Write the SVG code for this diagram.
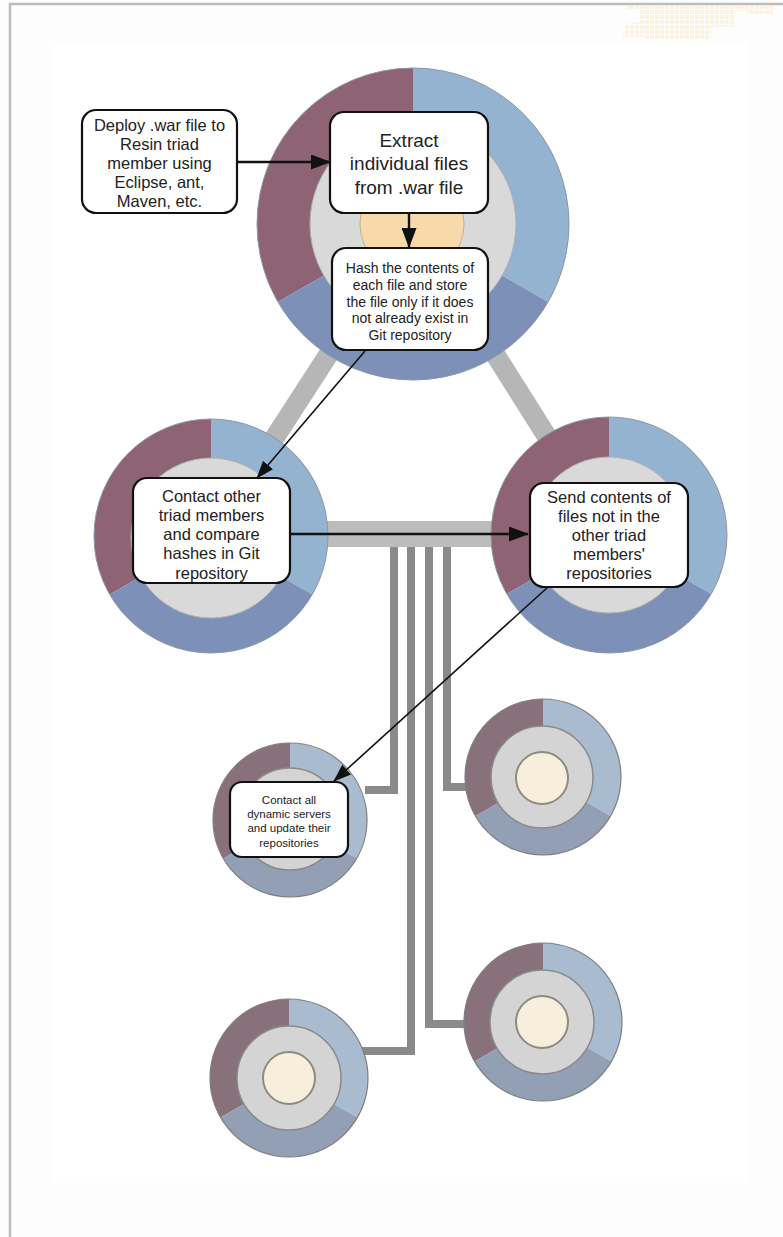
<svg xmlns="http://www.w3.org/2000/svg" width="783" height="1237" viewBox="0 0 783 1237">
<defs>
<style>
.mar{fill:#8e6373}.lb{fill:#94b3d0}.db{fill:#7d90b7}
.gry{fill:#d9d9d9;stroke:#b0b0b0;stroke-width:1}
.pch{fill:#f8d9aa}
.smar{fill:#88717a}.slb{fill:#a9bbcf}.sdb{fill:#929fb4}
.sgry{fill:#d4d4d4;stroke:#8a8a8a;stroke-width:1.5}
.crm{fill:#f8eedc;stroke:#8d8b80;stroke-width:2}
.sout{fill:none;stroke:#7e7e7e;stroke-width:1.2}
.bout{fill:none;stroke:#8c96a6;stroke-width:1}
.box{fill:#ffffff;stroke:#111;stroke-width:2.2}
.t{font-family:"Liberation Sans",Arial,sans-serif;fill:#222;text-anchor:middle}
.band{stroke:#b6b6b6;stroke-width:20;fill:none}
.hband{stroke:#bcbcbc;stroke-width:26;fill:none}
.bus{stroke:#8a8a8a;stroke-width:8;fill:none}
.arr{stroke:#111;stroke-width:2.4;fill:none}
.arrs{stroke:#111;stroke-width:1.6;fill:none}
</style>
<marker id="ah" viewBox="0 0 20 15" refX="19" refY="7.5" markerWidth="20" markerHeight="15" markerUnits="userSpaceOnUse" orient="auto"><path d="M0,0 L20,7.5 L0,15 z" fill="#111"/></marker>
<marker id="ahs" viewBox="0 0 18 13" refX="17" refY="6.5" markerWidth="18" markerHeight="13" markerUnits="userSpaceOnUse" orient="auto"><path d="M0,0 L18,6.5 L0,13 z" fill="#111"/></marker>
<pattern id="grid" width="5" height="5" patternUnits="userSpaceOnUse"><rect width="4" height="4" fill="#f6e1ba"/></pattern>
</defs>

<rect x="0" y="0" width="783" height="1237" fill="#fdfdfd"/>
<rect x="50" y="42" width="696" height="1141" fill="#ffffff"/>
<path d="M10,1237 V4 H783" fill="none" stroke="#bdbdbd" stroke-width="2.5"/>
<polygon points="627,6 773,6 773,15 750,15 746,11 735,11 735,27 712,27 710,40 645,40 645,37 623,37 625,24 640,22 640,9 627,9" fill="url(#grid)" opacity="0.4"/>

<g id="links">
<line class="band" x1="413" y1="224" x2="211" y2="536"/>
<line class="band" x1="413" y1="224" x2="609" y2="535"/>
<line class="hband" x1="211" y1="534" x2="609" y2="534"/>
<path class="bus" d="M394,547 V790 H365"/>
<path class="bus" d="M411,547 V1051 H362"/>
<path class="bus" d="M429,547 V1024 H466"/>
<path class="bus" d="M447,547 V787 H467"/>
</g>

<g id="triad-top">
<path class="mar" d="M413,224 L277.9,302 A156,156 0 0 1 413,68 Z"/>
<path class="lb" d="M413,224 L413,68 A156,156 0 0 1 548.1,302 Z"/>
<path class="db" d="M413,224 L548.1,302 A156,156 0 0 1 277.9,302 Z"/>
<circle class="bout" cx="413" cy="224" r="156"/>
<circle class="gry" cx="413" cy="224" r="103"/>
<circle class="pch" cx="412" cy="224" r="52" stroke="#c8b090" stroke-width="1"/>
</g>

<g id="triad-left">
<path class="mar" d="M211,536 L109.7,594.5 A117,117 0 0 1 211,419 Z"/>
<path class="lb" d="M211,536 L211,419 A117,117 0 0 1 312.3,594.5 Z"/>
<path class="db" d="M211,536 L312.3,594.5 A117,117 0 0 1 109.7,594.5 Z"/>
<circle class="bout" cx="211" cy="536" r="117"/>
<circle class="gry" cx="211" cy="538" r="80"/>
</g>

<g id="triad-right">
<path class="mar" d="M609,535 L506.8,594 A118,118 0 0 1 609,417 Z"/>
<path class="lb" d="M609,535 L609,417 A118,118 0 0 1 711.2,594 Z"/>
<path class="db" d="M609,535 L711.2,594 A118,118 0 0 1 506.8,594 Z"/>
<circle class="bout" cx="609" cy="535" r="118"/>
<circle class="gry" cx="609" cy="535" r="78"/>
</g>

<g id="dyn-1">
<path class="smar" d="M290,820 L223.3,858.5 A77,77 0 0 1 290,743 Z"/>
<path class="slb" d="M290,820 L290,743 A77,77 0 0 1 356.7,858.5 Z"/>
<path class="sdb" d="M290,820 L356.7,858.5 A77,77 0 0 1 223.3,858.5 Z"/>
<circle class="sout" cx="290" cy="820" r="77"/>
<circle class="sgry" cx="290" cy="819" r="51"/>
</g>

<g id="dyn-2">
<path class="smar" d="M543,777 L475.5,816 A78,78 0 0 1 543,699 Z"/>
<path class="slb" d="M543,777 L543,699 A78,78 0 0 1 610.5,816 Z"/>
<path class="sdb" d="M543,777 L610.5,816 A78,78 0 0 1 475.5,816 Z"/>
<circle class="sout" cx="543" cy="777" r="78"/>
<circle class="sgry" cx="542" cy="777" r="51"/>
<circle class="crm" cx="542" cy="778" r="26"/>
</g>

<g id="dyn-3">
<path class="smar" d="M289,1078 L220.6,1117.5 A79,79 0 0 1 289,999 Z"/>
<path class="slb" d="M289,1078 L289,999 A79,79 0 0 1 357.4,1117.5 Z"/>
<path class="sdb" d="M289,1078 L357.4,1117.5 A79,79 0 0 1 220.6,1117.5 Z"/>
<circle class="sout" cx="289" cy="1078" r="79"/>
<circle class="sgry" cx="289" cy="1078" r="52"/>
<circle class="crm" cx="289" cy="1078" r="26"/>
</g>

<g id="dyn-4">
<path class="smar" d="M543,1022 L474.6,1061.5 A79,79 0 0 1 543,943 Z"/>
<path class="slb" d="M543,1022 L543,943 A79,79 0 0 1 611.4,1061.5 Z"/>
<path class="sdb" d="M543,1022 L611.4,1061.5 A79,79 0 0 1 474.6,1061.5 Z"/>
<circle class="sout" cx="543" cy="1022" r="79"/>
<circle class="sgry" cx="542" cy="1022" r="52"/>
<circle class="crm" cx="542" cy="1022" r="26"/>
</g>

<g id="box-deploy">
<rect class="box" x="82" y="110" width="155" height="103" rx="14"/>
<text class="t" font-size="16.5"><tspan x="159.5" y="131">Deploy .war file to</tspan><tspan x="159.5" y="150">Resin triad</tspan><tspan x="159.5" y="169">member using</tspan><tspan x="159.5" y="188">Eclipse, ant,</tspan><tspan x="159.5" y="207">Maven, etc.</tspan></text>
</g>

<g id="box-extract">
<rect class="box" x="330" y="112" width="158" height="101" rx="14"/>
<text class="t" font-size="19"><tspan x="409" y="147">Extract</tspan><tspan x="409" y="170">individual files</tspan><tspan x="409" y="194">from .war file</tspan></text>
</g>

<g id="box-hash">
<rect class="box" x="332" y="248" width="156" height="102" rx="14"/>
<text class="t" font-size="14"><tspan x="410" y="273">Hash the contents of</tspan><tspan x="410" y="290">each file and store</tspan><tspan x="410" y="307">the file only if it does</tspan><tspan x="410" y="323">not already exist in</tspan><tspan x="410" y="340">Git repository</tspan></text>
</g>

<g id="box-contact">
<rect class="box" x="133" y="478" width="157" height="105" rx="14"/>
<text class="t" font-size="16.5"><tspan x="211.5" y="502">Contact other</tspan><tspan x="211.5" y="521">triad members</tspan><tspan x="211.5" y="540">and compare</tspan><tspan x="211.5" y="559">hashes in Git</tspan><tspan x="211.5" y="579">repository</tspan></text>
</g>

<g id="box-send">
<rect class="box" x="530" y="483" width="158" height="104" rx="14"/>
<text class="t" font-size="16.5"><tspan x="609" y="503">Send contents of</tspan><tspan x="609" y="522">files not in the</tspan><tspan x="609" y="541">other triad</tspan><tspan x="609" y="560">members'</tspan><tspan x="609" y="579">repositories</tspan></text>
</g>

<g id="box-dynamic">
<rect class="box" x="230" y="782" width="118" height="75" rx="12"/>
<text class="t" font-size="11.5"><tspan x="289" y="804">Contact all</tspan><tspan x="289" y="818">dynamic servers</tspan><tspan x="289" y="832">and update their</tspan><tspan x="289" y="847">repositories</tspan></text>
</g>

<g id="arrows">
<line class="arr" x1="237" y1="162" x2="330" y2="162" marker-end="url(#ah)"/>
<line class="arr" x1="409" y1="213" x2="409" y2="247" marker-end="url(#ah)"/>
<line class="arrs" x1="365" y1="351" x2="257" y2="478" marker-end="url(#ahs)"/>
<line class="arr" x1="290" y1="534" x2="528" y2="534" marker-end="url(#ah)"/>
<line class="arrs" x1="548" y1="587" x2="334" y2="781" marker-end="url(#ahs)"/>
</g>
</svg>
